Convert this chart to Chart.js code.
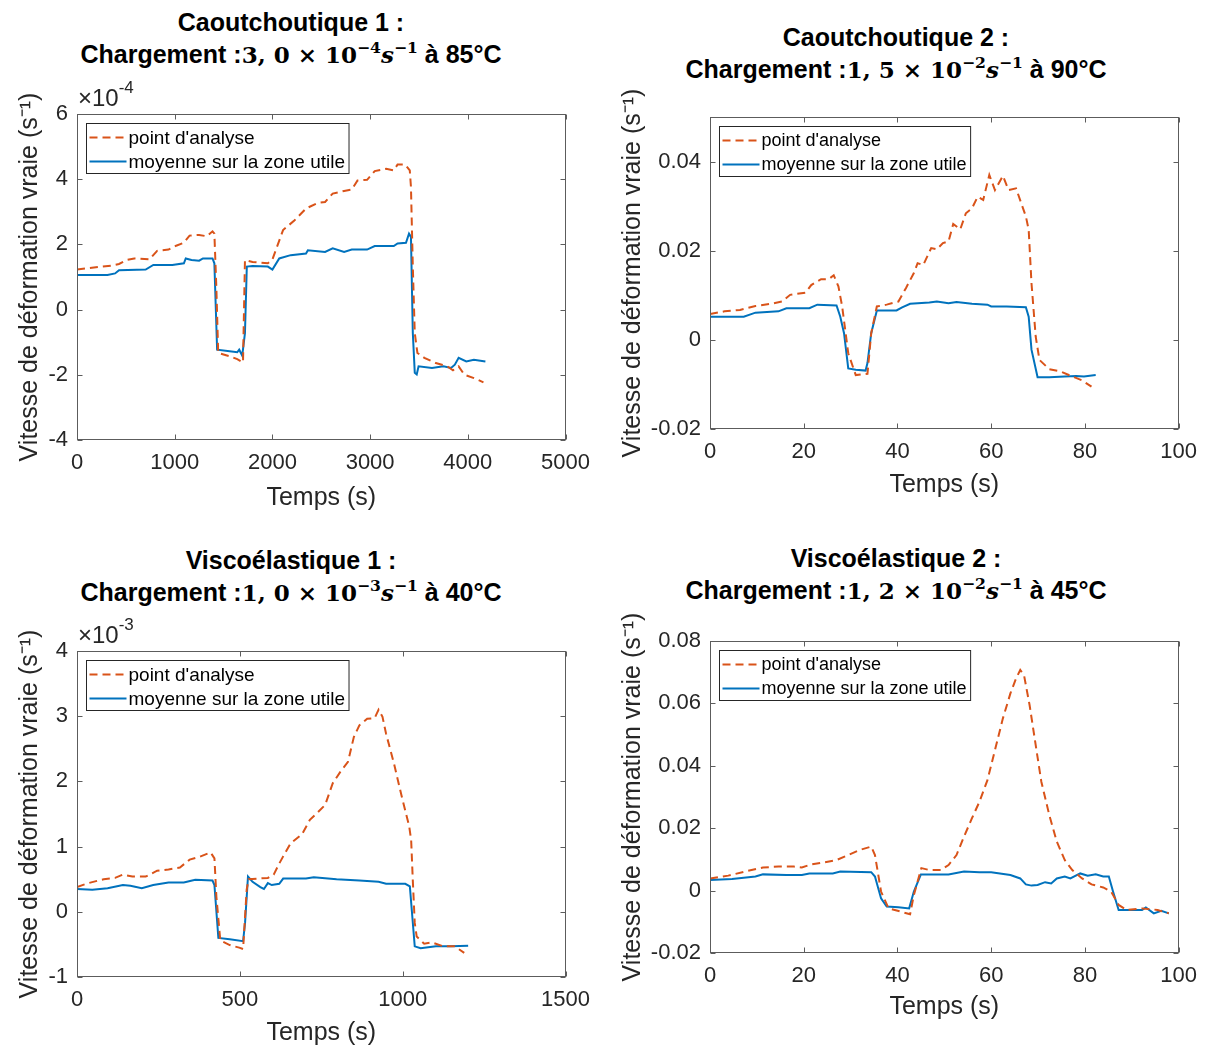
<!DOCTYPE html>
<html>
<head>
<meta charset="utf-8">
<script src="https://cdn.jsdelivr.net/npm/chart.js@4.4.1/dist/chart.umd.min.js"></script>
<style>
body { margin: 0; background: #fff; width: 1207px; height: 1048px; position: relative; overflow: hidden; font-family: "Liberation Sans", Arial, sans-serif; }
canvas { position: absolute; }
.titre { position: absolute; width: 600px; text-align: center; font-weight: bold; font-size: 25px; line-height: 32px; color: #000; white-space: nowrap; }
.math { font-family: "DejaVu Serif", serif; font-weight: bold; font-size: 23px; }
.math sup { font-size: 0.68em; vertical-align: 0.62em; line-height: 0; }
</style>
</head>
<body>
<div class="titre" id="titre1" style="left:-9px; top:6px"></div>
<div class="titre" id="titre2" style="left:596px; top:21px"></div>
<div class="titre" id="titre3" style="left:-9px; top:544px"></div>
<div class="titre" id="titre4" style="left:596px; top:542px"></div>
<canvas id="c1" width="600" height="520" style="left:0px; top:0px"></canvas>
<canvas id="c2" width="607" height="520" style="left:600px; top:0px"></canvas>
<canvas id="c3" width="600" height="518" style="left:0px; top:530px"></canvas>
<canvas id="c4" width="607" height="518" style="left:600px; top:530px"></canvas>
<script>
var nomsEssais 		= ["Caoutchoutique 1 :", "Caoutchoutique 2 :", "Viscoélastique 1 :", "Viscoélastique 2 :"];
var mantisses 		= ["3, 0", "1, 5", "1, 0", "1, 2"];
var exposants 		= ["−4", "−2", "−3", "−2"];
var temperatures 	= ["85°C", "90°C", "40°C", "45°C"];
var labelPoint 		= "point d'analyse";
var labelMoyenne 	= "moyenne sur la zone utile";
var labelX 			= "Temps (s)";
var labelY 			= "Vitesse de déformation vraie (s⁻¹)";

// essai 1 : valeurs en 1e-4 s-1
var tPoint1 = [0, 350, 430, 508, 586, 742, 820, 937, 1015, 1094, 1152, 1250, 1328, 1387, 1406, 1426, 1445, 1562, 1640, 1699, 1719, 1797, 1953, 2000, 2109, 2227, 2344, 2461, 2539, 2617, 2734, 2812, 2871, 2969, 3047, 3164, 3242, 3281, 3359, 3406, 3418, 3437, 3457, 3484, 3555, 3672, 3789, 3848, 3906, 3965, 4062, 4160];
var vPoint1 = [1.23, 1.35, 1.40, 1.52, 1.57, 1.54, 1.80, 1.84, 1.96, 2.05, 2.27, 2.29, 2.25, 2.40, 2.33, 0.70, -1.33, -1.43, -1.52, -1.62, 1.52, 1.46, 1.42, 1.54, 2.44, 2.74, 3.10, 3.27, 3.30, 3.56, 3.64, 3.68, 3.96, 3.98, 4.25, 4.32, 4.27, 4.45, 4.45, 4.27, 3.76, 1.32, -0.72, -1.33, -1.48, -1.64, -1.74, -1.86, -1.74, -2.00, -2.10, -2.23];
var tMoy1 = [0, 312, 390, 430, 703, 781, 976, 1094, 1113, 1172, 1250, 1289, 1387, 1406, 1434, 1562, 1640, 1660, 1691, 1719, 1738, 1797, 1953, 2000, 2070, 2187, 2344, 2363, 2539, 2617, 2734, 2812, 2969, 3047, 3242, 3281, 3367, 3398, 3418, 3437, 3457, 3477, 3496, 3633, 3750, 3828, 3867, 3906, 3984, 4062, 4180];
var vMoy1 = [1.06, 1.06, 1.11, 1.21, 1.23, 1.37, 1.37, 1.42, 1.57, 1.52, 1.50, 1.57, 1.57, 1.42, -1.23, -1.28, -1.31, -1.23, -1.41, -0.72, 1.32, 1.34, 1.32, 1.23, 1.57, 1.67, 1.72, 1.82, 1.77, 1.88, 1.77, 1.84, 1.84, 1.95, 1.95, 2.03, 2.05, 2.33, 2.23, -0.72, -1.94, -1.99, -1.74, -1.79, -1.74, -1.79, -1.69, -1.48, -1.59, -1.54, -1.59];

// essai 2 : s-1
var tPoint2 = [0, 3.1, 6.4, 9.7, 13.0, 15.4, 17.1, 20.4, 21.6, 23.7, 25.3, 26.4, 27.4, 28.2, 29.5, 31.1, 33.6, 34.4, 35.6, 37.7, 40.2, 41.8, 43.5, 44.3, 45.5, 47.2, 48.4, 49.7, 50.9, 51.9, 53.4, 54.6, 55.9, 57.1, 58.3, 59.6, 60.8, 62.5, 63.7, 65.3, 67.4, 68.0, 68.6, 69.5, 70.3, 72.4, 74.8, 77.3, 79.4, 81.4];
var vPoint2 = [0.0058, 0.0064, 0.0067, 0.0076, 0.0081, 0.0086, 0.0101, 0.0106, 0.0123, 0.0136, 0.0136, 0.0145, 0.0120, 0.0075, -0.0030, -0.0079, -0.0076, 0.0015, 0.0075, 0.0079, 0.0086, 0.0116, 0.0150, 0.0172, 0.0168, 0.0206, 0.0203, 0.0217, 0.0221, 0.0260, 0.0248, 0.0284, 0.0295, 0.0321, 0.0314, 0.0370, 0.0336, 0.0368, 0.0336, 0.0340, 0.0277, 0.0247, 0.0127, 0.0007, -0.0045, -0.0066, -0.0071, -0.0082, -0.0091, -0.0105];
var tMoy2 = [0, 7.2, 9.7, 14.6, 16.3, 21.2, 22.9, 27.0, 27.8, 28.6, 29.5, 31.1, 33.2, 33.6, 34.4, 35.6, 39.8, 41.0, 42.7, 46.8, 48.4, 50.9, 52.6, 55.9, 59.2, 60.0, 63.3, 67.4, 68.0, 68.6, 69.9, 72.4, 75.7, 78.1, 79.8, 82.3];
var vMoy2 = [0.0052, 0.0052, 0.0061, 0.0064, 0.0071, 0.0071, 0.0079, 0.0077, 0.0052, 0.0015, -0.0064, -0.0067, -0.0069, -0.0052, 0.0015, 0.0066, 0.0066, 0.0073, 0.0081, 0.0084, 0.0086, 0.0082, 0.0085, 0.0081, 0.0079, 0.0075, 0.0075, 0.0073, 0.0052, -0.0022, -0.0084, -0.0084, -0.0082, -0.0081, -0.0082, -0.0079];

// essai 3 : valeurs en 1e-3 s-1
var tPoint3 = [0, 35, 82, 117, 141, 170, 211, 246, 281, 316, 346, 375, 410, 422, 428, 440, 469, 498, 510, 521, 527, 586, 604, 621, 633, 656, 691, 715, 738, 762, 785, 809, 832, 850, 867, 891, 914, 926, 938, 949, 973, 996, 1020, 1026, 1031, 1037, 1043, 1066, 1090, 1125, 1160, 1189];
var vPoint3 = [0.38, 0.44, 0.50, 0.52, 0.57, 0.54, 0.54, 0.63, 0.65, 0.68, 0.80, 0.84, 0.91, 0.82, 0.23, -0.44, -0.51, -0.55, -0.57, 0.34, 0.50, 0.52, 0.57, 0.74, 0.85, 1.05, 1.19, 1.41, 1.52, 1.64, 1.97, 2.15, 2.30, 2.68, 2.86, 2.96, 2.97, 3.10, 2.99, 2.73, 2.28, 1.79, 1.31, 1.10, 0.49, -0.17, -0.38, -0.49, -0.47, -0.53, -0.53, -0.63];
var tMoy3 = [0, 47, 94, 141, 164, 199, 234, 281, 328, 363, 416, 422, 434, 469, 510, 516, 525, 539, 563, 574, 586, 598, 621, 633, 703, 727, 797, 867, 926, 949, 1008, 1022, 1037, 1055, 1102, 1149, 1201];
var vMoy3 = [0.35, 0.34, 0.36, 0.41, 0.40, 0.36, 0.41, 0.45, 0.45, 0.49, 0.48, 0.41, -0.40, -0.42, -0.45, -0.17, 0.54, 0.46, 0.38, 0.35, 0.44, 0.41, 0.43, 0.51, 0.51, 0.53, 0.50, 0.48, 0.46, 0.43, 0.43, 0.39, -0.53, -0.56, -0.53, -0.53, -0.52];

// essai 4 : s-1
var tPoint4 = [0, 3.9, 8.0, 11.3, 14.6, 17.9, 19.6, 21.6, 24.5, 27.0, 29.5, 31.9, 34.4, 35.2, 36.5, 38.1, 40.6, 42.7, 43.5, 45.1, 46.8, 49.3, 50.9, 52.6, 54.2, 55.9, 57.5, 59.2, 60.8, 62.5, 64.1, 65.3, 66.2, 67.0, 68.2, 69.5, 70.7, 72.4, 74.0, 75.7, 77.3, 79.4, 81.4, 83.9, 85.6, 87.2, 88.9, 92.2, 95.5, 97.9];
var vPoint4 = [0.0039, 0.0048, 0.0063, 0.0074, 0.0077, 0.0077, 0.0074, 0.0084, 0.0091, 0.0098, 0.0114, 0.0130, 0.0141, 0.0114, -0.0003, -0.0057, -0.0067, -0.0076, -0.0014, 0.0072, 0.0066, 0.0066, 0.0082, 0.0114, 0.0173, 0.0232, 0.0285, 0.0354, 0.0450, 0.0552, 0.0632, 0.0680, 0.0707, 0.0691, 0.0594, 0.0466, 0.0349, 0.0242, 0.0157, 0.0098, 0.0066, 0.0039, 0.0020, 0.0010, -0.0003, -0.0046, -0.0062, -0.0057, -0.0062, -0.0073];
var tMoy4 = [0, 4.7, 9.7, 11.3, 16.3, 19.6, 21.2, 26.2, 27.8, 34.4, 35.2, 36.5, 37.7, 40.2, 42.5, 43.5, 45.0, 50.9, 54.2, 57.5, 60.0, 64.1, 66.2, 67.4, 68.6, 69.9, 71.5, 72.8, 74.0, 75.7, 76.9, 79.0, 80.6, 82.3, 83.9, 85.1, 86.0, 87.2, 89.7, 92.2, 93.0, 94.7, 96.3, 97.9];
var vMoy4 = [0.0034, 0.0037, 0.0045, 0.0052, 0.0050, 0.0050, 0.0055, 0.0055, 0.0061, 0.0059, 0.0045, -0.0025, -0.0051, -0.0053, -0.0057, -0.0003, 0.0052, 0.0052, 0.0061, 0.0059, 0.0059, 0.0050, 0.0039, 0.0020, 0.0016, 0.0018, 0.0027, 0.0023, 0.0039, 0.0045, 0.0039, 0.0055, 0.0048, 0.0052, 0.0045, 0.0045, -0.0003, -0.0062, -0.0062, -0.0062, -0.0054, -0.0073, -0.0065, -0.0073];

var xTicks1 = [0, 1000, 2000, 3000, 4000, 5000];
var yTicks1 = [-4, -2, 0, 2, 4, 6];
var xTicks2 = [0, 20, 40, 60, 80, 100];
var yTicks2 = [-0.02, 0, 0.02, 0.04];
var xTicks3 = [0, 500, 1000, 1500];
var yTicks3 = [-1, 0, 1, 2, 3, 4];
var xTicks4 = [0, 20, 40, 60, 80, 100];
var yTicks4 = [-0.02, 0, 0.02, 0.04, 0.06, 0.08];

var orange 	= "#D95319";
var bleu 	= "#0072BD";
var gris 	= "#262626";
var police 	= '"Liberation Sans", Arial, sans-serif';

Chart.defaults.font.family = police;
Chart.defaults.color = gris;

for (var i = 0; i < 4; i++) {
	document.getElementById("titre" + (i + 1)).innerHTML = nomsEssais[i] + "<br>Chargement :<span class='math'>" + mantisses[i] + " × 10<sup>" + exposants[i] + "</sup><i>s</i><sup>−1</sup></span> à " + temperatures[i];
}

function points(t, v) {
	var out = [];
	for (var i = 0; i < t.length; i++) out.push({ x: t[i], y: v[i] });
	return out;
}

function fmt(v) {
	return String(Math.round(v * 1000) / 1000);
}

// cadre, graduations interieures, legende et facteur d'echelle
var cadre = {
	id: 'cadre',
	afterDatasetsDraw: function(chart, args, opts) {
		var ctx = chart.ctx;
		var a = chart.chartArea;
		var xs = chart.scales.x;
		var ys = chart.scales.y;
		var L = Math.round(a.left) + 0.5, R = Math.round(a.right) - 0.5;
		var T = Math.round(a.top) + 0.5, B = Math.round(a.bottom) - 0.5;
		ctx.save();
		ctx.strokeStyle = "#5c5c5c";
		ctx.lineWidth = 1;
		ctx.beginPath();
		xs.ticks.forEach(function(t) {
			var p = Math.round(xs.getPixelForValue(t.value)) + 0.5;
			ctx.moveTo(p, B); ctx.lineTo(p, B - 5);
			ctx.moveTo(p, T); ctx.lineTo(p, T + 5);
		});
		ys.ticks.forEach(function(t) {
			var p = Math.round(ys.getPixelForValue(t.value)) + 0.5;
			ctx.moveTo(L, p); ctx.lineTo(L + 5, p);
			ctx.moveTo(R, p); ctx.lineTo(R - 5, p);
		});
		ctx.stroke();
		ctx.strokeRect(L, T, R - L, B - T);

		// legende
		var fs = opts.legendeTaille || 19;
		ctx.font = fs + "px " + police;
		var wmax = 0;
		chart.data.datasets.forEach(function(d) { wmax = Math.max(wmax, ctx.measureText(d.label).width); });
		var bx = L + 9, by = T + 9, bw = 42 + wmax + 4, bh = 50;
		ctx.fillStyle = "#fff";
		ctx.fillRect(bx, by, bw, bh);
		ctx.strokeStyle = gris;
		ctx.strokeRect(bx, by, bw, bh);
		ctx.textBaseline = "middle";
		ctx.textAlign = "left";
		chart.data.datasets.forEach(function(d, k) {
			var yy = by + 14 + k * 24;
			ctx.beginPath();
			ctx.strokeStyle = d.borderColor;
			ctx.lineWidth = d.borderWidth;
			ctx.setLineDash(d.borderDash || []);
			ctx.moveTo(bx + 3, yy);
			ctx.lineTo(bx + 40, yy);
			ctx.stroke();
			ctx.setLineDash([]);
			ctx.fillStyle = "#000";
			ctx.fillText(d.label, bx + 42, yy + 1);
		});

		if (opts.exposant) {
			ctx.fillStyle = gris;
			ctx.font = "24px " + police;
			ctx.fillText("×10", a.left + 1, a.top - 15);
			var w = ctx.measureText("×10").width;
			ctx.font = "17px " + police;
			ctx.fillText(opts.exposant, a.left + 1 + w, a.top - 26);
		}
		ctx.restore();
	}
};

function panneau(id, tp, vp, tm, vm, xTicks, yTicks, ymax, geo, exposant) {
	new Chart(document.getElementById(id), {
		type: 'line',
		data: {
			datasets: [{
				label: labelPoint,
				data: points(tp, vp),
				borderColor: orange,
				borderWidth: 2,
				borderDash: [8, 5]
			}, {
				label: labelMoyenne,
				data: points(tm, vm),
				borderColor: bleu,
				borderWidth: 2
			}]
		},
		options: {
			responsive: false,
			animation: false,
			devicePixelRatio: 1,
			elements: { point: { radius: 0 }, line: { tension: 0 } },
			layout: { padding: { top: geo.top, right: geo.right, left: 0, bottom: 0 } },
			plugins: {
				legend: { display: false },
				title: { display: false },
				tooltip: { enabled: false },
				cadre: { exposant: exposant, legendeTaille: geo.lg }
			},
			scales: {
				x: {
					type: 'linear',
					min: xTicks[0],
					max: xTicks[xTicks.length - 1],
					grid: { display: false, drawTicks: false },
					border: { display: false },
					afterBuildTicks: function(s) { s.ticks = xTicks.map(function(v) { return { value: v }; }); },
					afterFit: function(s) { s.height = geo.xh; },
					ticks: { padding: 10, color: gris, font: { size: 22 }, maxRotation: 0, callback: function(v) { return fmt(v); } },
					title: { display: true, text: labelX, color: gris, font: { size: 25, lineHeight: 1.2 }, padding: { top: 0, bottom: geo.xt } }
				},
				y: {
					type: 'linear',
					min: yTicks[0],
					max: ymax,
					grid: { display: false, drawTicks: false },
					border: { display: false },
					afterBuildTicks: function(s) { s.ticks = yTicks.map(function(v) { return { value: v }; }); },
					afterFit: function(s) { s.width = geo.yw; },
					ticks: { padding: 9, color: gris, font: { size: 22 }, callback: function(v) { return fmt(v); } },
					title: { display: true, text: labelY, color: gris, font: { size: 25, lineHeight: 1.2 }, padding: { top: geo.yt, bottom: 0 } }
				}
			}
		},
		plugins: [cadre]
	});
}

panneau("c1", tPoint1, vPoint1, tMoy1, vMoy1, xTicks1, yTicks1, 6, { top: 114, right: 34, yw: 77, xh: 80, yt: 15, xt: 7, lg: 19 }, "-4");
panneau("c2", tPoint2, vPoint2, tMoy2, vMoy2, xTicks2, yTicks2, 0.05, { top: 117, right: 28, yw: 110, xh: 91, yt: 18, xt: 20, lg: 18 }, null);
panneau("c3", tPoint3, vPoint3, tMoy3, vMoy3, xTicks3, yTicks3, 4, { top: 121, right: 34, yw: 77, xh: 71, yt: 15, xt: 0, lg: 19 }, "-3");
panneau("c4", tPoint4, vPoint4, tMoy4, vMoy4, xTicks4, yTicks4, 0.08, { top: 111, right: 28, yw: 110, xh: 95, yt: 18, xt: 26, lg: 18 }, null);
</script>
</body>
</html>
